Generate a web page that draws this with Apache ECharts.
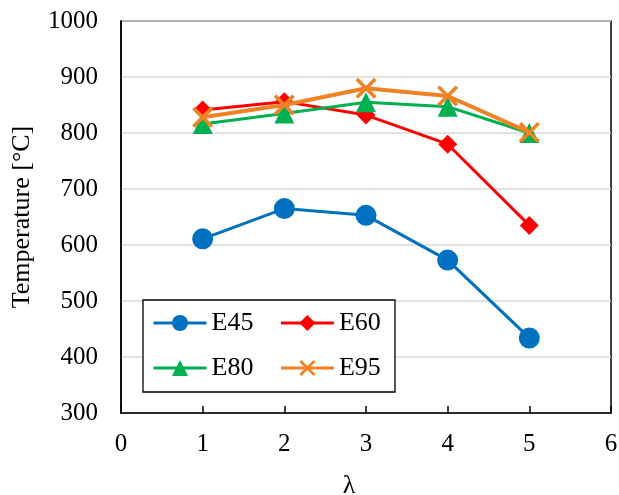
<!DOCTYPE html>
<html><head><meta charset="utf-8">
<script src="https://cdn.jsdelivr.net/npm/echarts@6/dist/echarts.min.js"></script>
<style>html,body{margin:0;padding:0;background:#fff}#c{width:619px;height:495px}</style>
</head><body><div id="c"></div>
<script>
var lambdas = [1, 2, 3, 4, 5];
var E45 = [611, 665, 653, 573, 434];
var E60 = [841, 856, 832, 780, 635];
var E80 = [816, 835, 855, 847, 800];
var E95 = [828, 850, 880, 866, 801];
var seriesNames = ['E45', 'E60', 'E80', 'E95'];
var xTicks = [0, 1, 2, 3, 4, 5, 6];
var yTicks = [300, 400, 500, 600, 700, 800, 900, 1000];

var crossPath = 'path://M0,1.2L1.2,0L5,3.8L8.8,0L10,1.2L6.2,5L10,8.8L8.8,10L5,6.2L1.2,10L0,8.8L3.8,5Z';
var font = 'Liberation Serif';
function pts(arr){ return lambdas.map(function(x,i){ return [x, arr[i]]; }); }
var colors = ['#0070C0', '#FF0000', '#00B050', '#EE8225'];
var symbols = ['circle', 'diamond', 'triangle', crossPath];
var sizes = [21, 19, 20, 21];
var widths = [3, 3, 3, 4];
var data = [E45, E60, E80, E95];

var legendCommon = {orient: 'horizontal', itemWidth: 53, itemHeight: 20, itemGap: 26, z: 60, padding: 0,
  lineStyle: {width: 3}, textStyle: {fontFamily: font, fontSize: 26, color: '#000'}};
function legendRow(names, top){
  var o = {data: names, left: 152, top: top};
  for (var k in legendCommon) o[k] = legendCommon[k];
  return o;
}

var chart = echarts.init(document.getElementById('c'));
chart.setOption({
  animation: false,
  grid: {left: 121, right: 8, top: 21, bottom: 82, containLabel: false, outerBoundsMode: 'none',
         show: true, borderColor: '#000', borderWidth: 1.5, backgroundColor: 'transparent'},
  graphic: [{type: 'rect', shape: {x: 143, y: 300, width: 252, height: 92}, style: {fill: '#fff', stroke: '#000', lineWidth: 1.3}, z: 50}],
  legend: [legendRow(['E45', 'E60'], 310), legendRow(['E80', 'E95'], 355)],
  xAxis: {
    type: 'value', min: 0, max: 6, interval: 1,
    name: 'λ', nameLocation: 'middle', nameGap: 60,
    nameTextStyle: {fontFamily: font, fontSize: 26, color: '#000', padding: [0, 34, 0, 0]},
    axisLine: {show: true, lineStyle: {color: '#000', width: 1.5}},
    axisTick: {show: true, inside: true, length: 7, lineStyle: {color: '#000', width: 1.5}},
    axisLabel: {fontFamily: font, fontSize: 25, color: '#000', margin: 19, showMinLabel: true, showMaxLabel: true,
      formatter: function(v){ return xTicks.indexOf(v) >= 0 ? String(v) : ''; }},
    splitLine: {show: false}
  },
  yAxis: {
    type: 'value', min: 300, max: 1000, interval: 100,
    name: 'Temperature [°C]', nameLocation: 'middle', nameGap: 86,
    nameTextStyle: {fontFamily: font, fontSize: 26, color: '#000'},
    axisLine: {show: true, lineStyle: {color: '#000', width: 1.5}},
    axisTick: {show: false},
    axisLabel: {fontFamily: font, fontSize: 25, color: '#000', margin: 23, showMinLabel: true, showMaxLabel: true,
      formatter: function(v){ return yTicks.indexOf(v) >= 0 ? String(v) : ''; }},
    splitLine: {show: true, lineStyle: {color: '#d9d9d9', width: 1.5}}
  },
  series: seriesNames.map(function(n, i){
    return {
      name: n, type: 'line', data: pts(data[i]),
      symbol: symbols[i], symbolSize: sizes[i],
      lineStyle: {color: colors[i], width: widths[i]},
      itemStyle: {color: colors[i]},
      z: 10 + i
    };
  })
});
</script></body></html>
